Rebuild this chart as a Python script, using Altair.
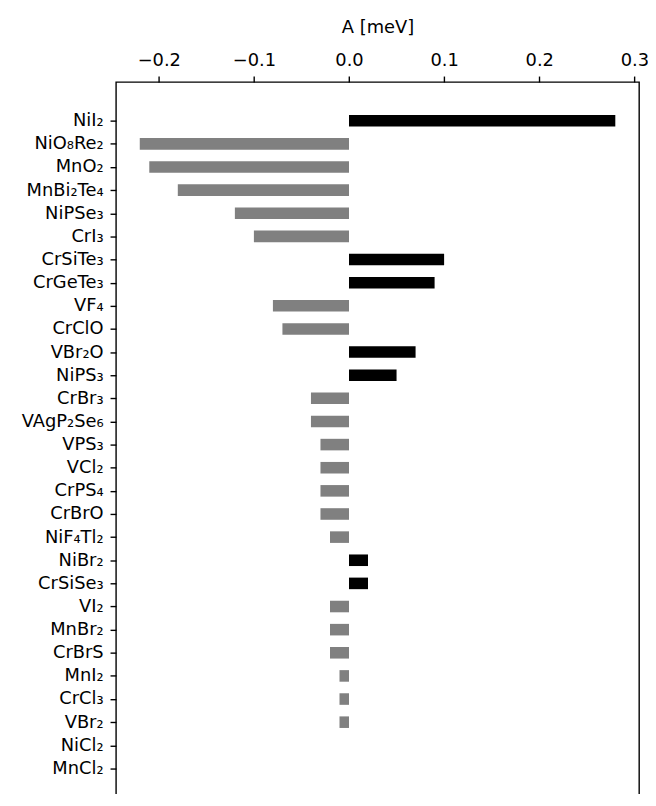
import altair as alt
import pandas as pd

materials = [
    "NiI₂", "NiO₈Re₂", "MnO₂", "MnBi₂Te₄", "NiPSe₃", "CrI₃", "CrSiTe₃",
    "CrGeTe₃", "VF₄", "CrClO", "VBr₂O", "NiPS₃", "CrBr₃", "VAgP₂Se₆",
    "VPS₃", "VCl₂", "CrPS₄", "CrBrO", "NiF₄Tl₂", "NiBr₂", "CrSiSe₃",
    "VI₂", "MnBr₂", "CrBrS", "MnI₂", "CrCl₃", "VBr₂", "NiCl₂", "MnCl₂",
]
anisotropy = [
    0.28, -0.22, -0.21, -0.18, -0.12, -0.10, 0.10,
    0.09, -0.08, -0.07, 0.07, 0.05, -0.04, -0.04,
    -0.03, -0.03, -0.03, -0.03, -0.02, 0.02, 0.02,
    -0.02, -0.02, -0.02, -0.01, -0.01, -0.01, 0.0, 0.0,
]
x_ticks = [-0.2, -0.1, 0.0, 0.1, 0.2, 0.3]

positions = list(range(len(materials)))
df = pd.DataFrame({"material": materials, "A": anisotropy, "pos": positions})
df["sign"] = ["pos" if v > 0 else "neg" for v in anisotropy]

label_expr = "[" + ",".join("'" + m + "'" for m in materials) + "][datum.value]"

FONT = "DejaVu Sans"

chart = (
    alt.Chart(df)
    .transform_calculate(lo="datum.pos - 0.25", hi="datum.pos + 0.25")
    .mark_bar()
    .encode(
        y=alt.Y(
            "lo:Q",
            scale=alt.Scale(domain=[-1.675, 29.675], nice=False, zero=False, reverse=True),
            axis=alt.Axis(
                title=None,
                values=positions,
                labelExpr=label_expr,
                grid=False,
                labelFont=FONT,
                labelFontSize=18,
                labelColor="black",
                labelPadding=7,
                labelBaseline="middle",
                labelFlush=False,
                labelOverlap=False,
                tickSize=6,
                tickWidth=1.4,
                tickColor="black",
                domain=False,
            ),
        ),
        y2="hi:Q",
        x=alt.X(
            "A:Q",
            scale=alt.Scale(domain=[-0.245, 0.305], nice=False, zero=False),
            axis=alt.Axis(
                orient="top",
                title="A [meV]",
                values=x_ticks,
                format=".1f",
                grid=False,
                labelFont=FONT,
                labelFontSize=18,
                labelColor="black",
                labelPadding=7,
                labelFlush=False,
                tickSize=6,
                tickWidth=1.4,
                tickColor="black",
                domain=False,
                titleFont=FONT,
                titleFontSize=18,
                titleFontWeight="normal",
                titleColor="black",
                titlePadding=15,
            ),
        ),
        x2=alt.datum(0),
        color=alt.Color(
            "sign:N",
            scale=alt.Scale(domain=["pos", "neg"], range=["#000000", "#808080"]),
            legend=None,
        ),
    )
    .properties(
        width=528,
        height=732,
        autosize=alt.AutoSizeParams(type="none"),
        padding={"left": 109, "top": 71, "right": 9, "bottom": -17},
    )
    .configure_view(stroke="black", strokeWidth=1.4)
)

chart.save("out.html", embed_options={"renderer": "svg", "actions": False})
